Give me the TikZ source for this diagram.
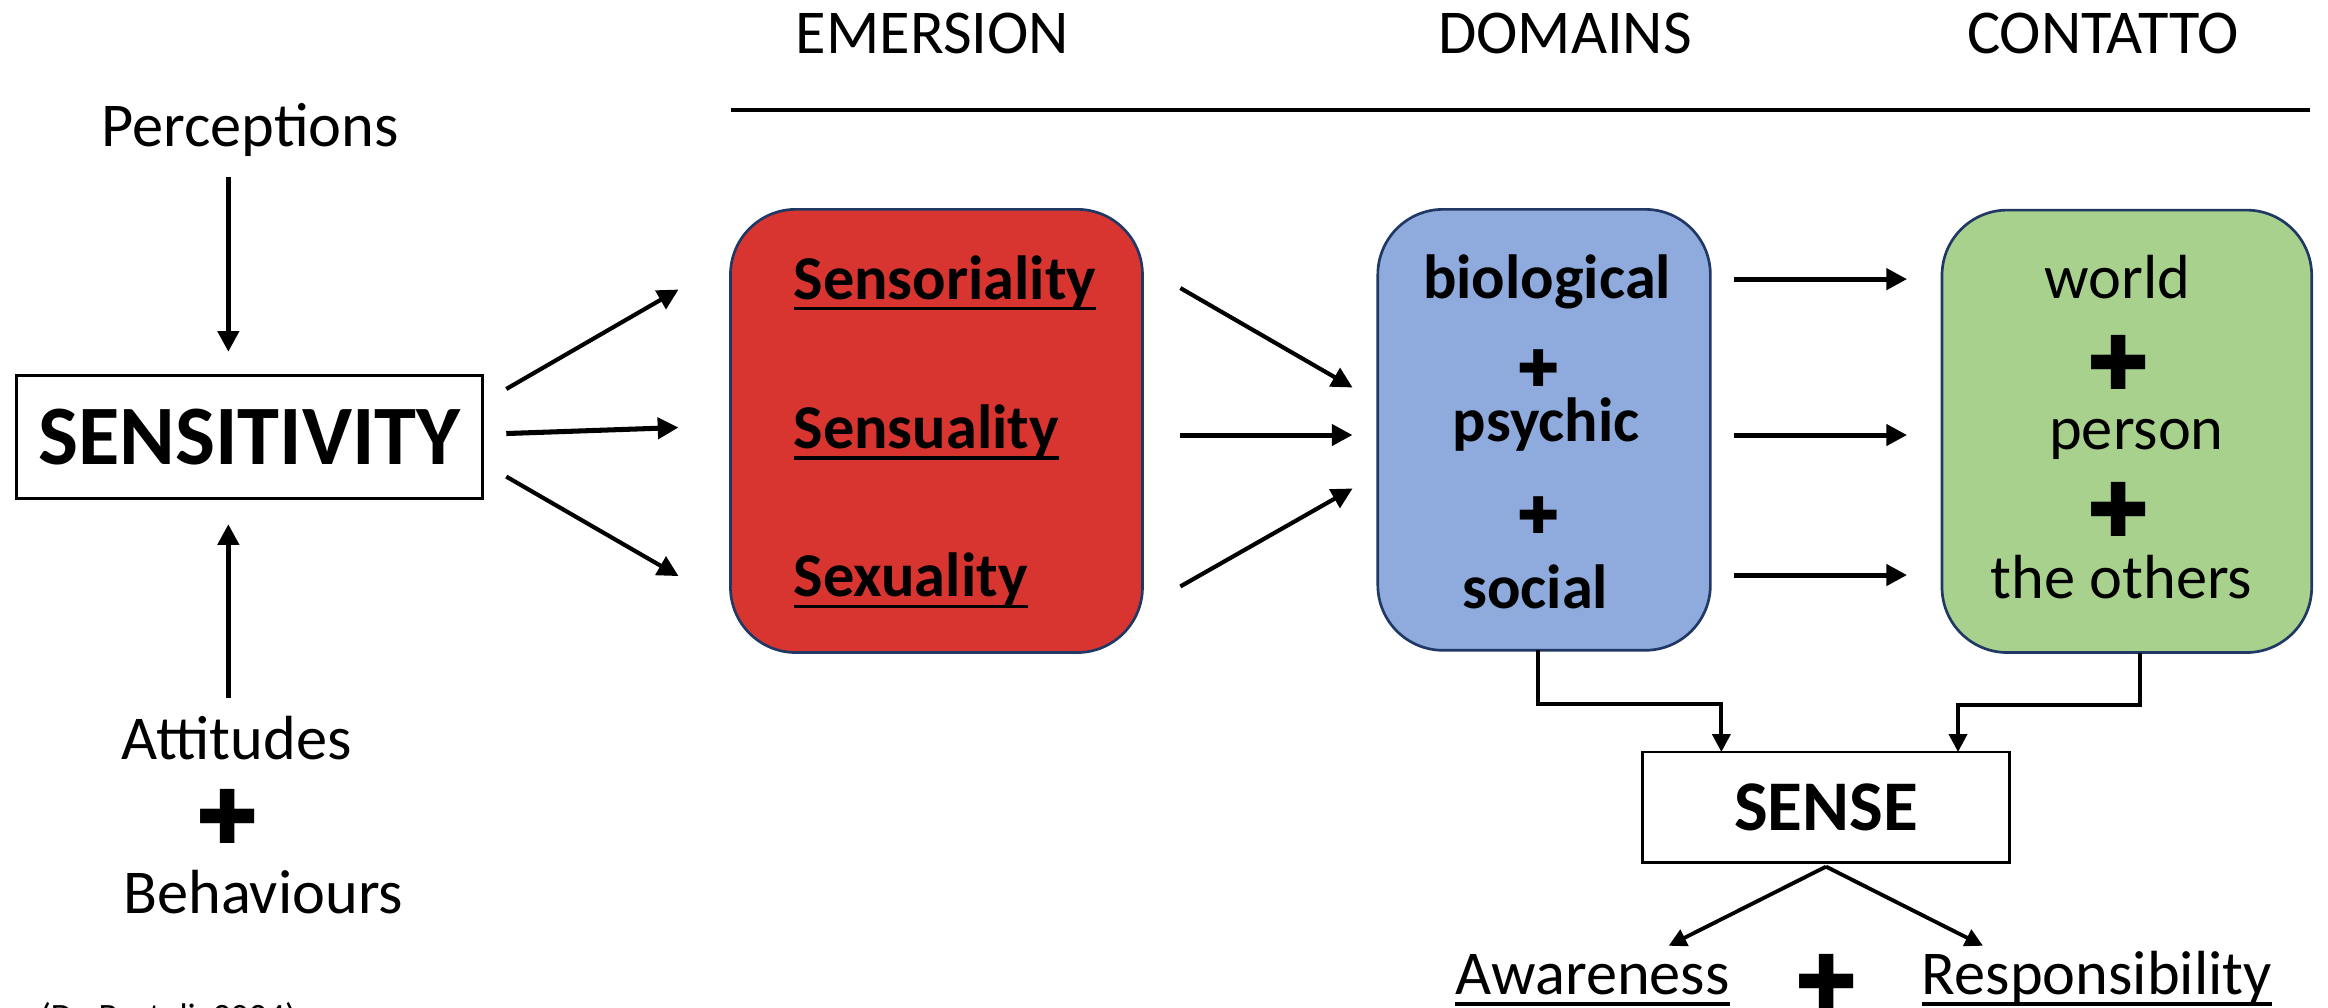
\documentclass[tikz,border=0pt]{standalone}
\usepackage{fontspec}
\setmainfont{Carlito}
\newfontfamily\symfont{DejaVu Sans}
\usetikzlibrary{arrows.meta, calc}

\definecolor{boxred}{HTML}{D93530}
\definecolor{boxblue}{HTML}{8FAADC}
\definecolor{boxgreen}{HTML}{A9D18E}
\definecolor{boxline}{HTML}{203864}

% underlined word, rule set 5.2pt to 7.6pt below the baseline
\newcommand{\underword}[1]{{\setbox0\hbox{#1}\rlap{\rule[-7.6pt]{\wd0}{2.4pt}}\box0}}

\begin{document}
\begin{tikzpicture}[x=1pt, y=-1pt,
every node/.style={inner sep=0pt, outer sep=0pt},
word/.style={font=\fontsize{42}{50}\selectfont, anchor=base},
term/.style={font=\fontsize{42}{50}\selectfont\bfseries, anchor=base},
plain box/.style={draw, line width=2pt, fill=white},
soft box/.style={draw=boxline, line width=1.8pt, rounded corners=44pt},
plussign/.style={font=\symfont\fontsize{50}{50}\selectfont},
small plus/.style={font=\symfont\fontsize{34}{34}\selectfont},
flow/.style={-{Triangle[length=14pt,width=14pt]}, line width=3.4pt},
elbow/.style={-{Triangle[length=12pt,width=12pt]}, line width=2.6pt},
]

\path[use as bounding box, fill=white] (0,0) rectangle (1568,678.3);

% column headings
\path
(628,36) node[word] (hemer) {EMERSION}
(1054,36) node[word] (hdom) {DOMAINS}
(1416.5,36) node[word] (hcont) {CONTATTO}
;
\draw[line width=2.3pt] (492.5,74) -- (1555.6,74);

% left column
\node[plain box, minimum width=314pt, minimum height=83.4pt,
  font=\fontsize{57}{60}\selectfont\bfseries] (sens) at (168,294.3) {SENSITIVITY};
\path
(168.4,98.8) node[word] (perc) {Perceptions}
(159.4,511.4) node[word] (att) {Attitudes}
(153.6,550) node[plussign] (p0) {✚}
(177.3,615) node[word] (beh) {Behaviours}
;

% the three coloured boxes
\node[soft box, fill=boxred, minimum width=277.5pt, minimum height=298.5pt] (emer) at (630.75,290.25) {};
\node[soft box, fill=boxblue, minimum width=224pt, minimum height=297pt] (dom) at (1040,289.5) {};
\node[soft box, fill=boxgreen, minimum width=249pt, minimum height=298pt] (cont) at (1432.5,290.5) {};

\path
(534.5,201.4) node[term, anchor=base west] (s1) {\underword{Sensoriality}}
(534.5,302) node[term, anchor=base west] (s2) {\underword{Sensuality}}
(534.5,402) node[term, anchor=base west] (s3) {\underword{Sexuality}}
(1042,201) node[term] (d1) {biological}
(1036.5,248) node[small plus] (p1) {✚}
(1041.5,297.5) node[term] (d2) {psychic}
(1036.5,347) node[small plus] (p2) {✚}
(1034,409.7) node[term] (d3) {social}
(1426,201) node[word] (c1) {world}
(1427,244) node[plussign] (p3) {✚}
(1439,303) node[word] (c2) {person}
(1427,343) node[plussign] (p4) {✚}
(1429,402.8) node[word] (c3) {the others}
;

% sense and its outcomes
\node[plain box, minimum width=247.2pt, minimum height=74.5pt,
  font=\fontsize{48}{52}\selectfont\bfseries] (sense) at (1229.9,543.75) {SENSE};
\path
(1072.5,670) node[word] (aware) {\underword{Awareness}}
(1230,661) node[plussign] (p5) {✚}
(1412.4,670) node[word] (resp) {\underword{Responsibility}}
(27,693) node[anchor=base west, font=\fontsize{24}{28}\selectfont] (cite) {(De Bortoli, 2024)}
;

% arrows
\begin{scope}[flow]
\draw ($(sens.north)+(-14.2,-133.6)$) -- ($(sens.north)+(-14.2,-15.6)$);
\draw ($(sens.south)+(-14.2,134)$) -- ($(sens.south)+(-14.2,17)$);

\draw[line width=2.8pt] ($(sens.east)+(16,-32.3)$) -- ($(emer.west)+(-35,-95.25)$);
\draw ($(sens.east)+(16,-2.3)$) -- ($(emer.west)+(-35,-2.3)$);
\draw[line width=2.8pt] ($(sens.east)+(16,26.7)$) -- ($(emer.west)+(-35,97.75)$);

\draw[line width=2.8pt] ($(emer.east)+(25.5,-96.25)$) -- ($(dom.west)+(-17,-28.5)$);
\draw ($(emer.east)+(25.5,2.75)$) -- ($(dom.west)+(-17,3.5)$);
\draw[line width=2.8pt] ($(emer.east)+(25.5,104.75)$) -- ($(dom.west)+(-17,39.5)$);

\draw ($(dom.east)+(16,-101.5)$) -- ($(cont.west)+(-23.5,-102.5)$);
\draw ($(dom.east)+(16,3.5)$) -- ($(cont.west)+(-23.5,2.5)$);
\draw ($(dom.east)+(16,97.8)$) -- ($(cont.west)+(-23.5,96.8)$);
\end{scope}

\draw[elbow] ($(dom.south)+(-4,0)$) -- ++(0,36) -| ($(sense.north)+(-70.5,0)$);
\draw[elbow] ($(cont.south)+(9,0)$) -- ++(0,35.5) -| ($(sense.north)+(88.9,0)$);

\draw[elbow] ($(sense.south)+(0,2.7)$) -- ($(sense.south)+(-106,56)$);
\draw[elbow] ($(sense.south)+(0,2.7)$) -- ($(sense.south)+(105.7,56)$);

\end{tikzpicture}
\end{document}
